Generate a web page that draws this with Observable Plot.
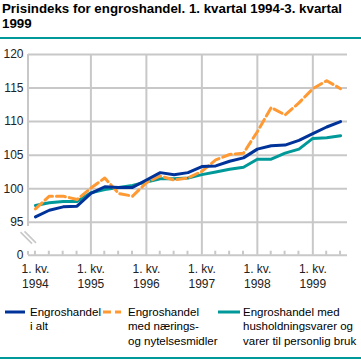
<!DOCTYPE html>
<html>
<head>
<meta charset="utf-8">
<script src="https://cdn.jsdelivr.net/npm/d3@7"></script>
<script src="https://cdn.jsdelivr.net/npm/@observablehq/plot@0.6"></script>
<style>
  body { margin: 0; background: #fff; }
  #wrap { position: relative; width: 361px; height: 361px; overflow: hidden; background: #fff; font-family: "Liberation Sans", Arial, sans-serif; }
  #title { position: absolute; left: 2px; top: 1px; width: 356px; font-weight: bold; font-size: 13.3px; line-height: 15px; color: #000; }
  .rule { position: absolute; left: 0; width: 361px; height: 2px; background: #009999; }
  #chart { position: absolute; left: 0; top: 39px; }
  .leg { position: absolute; top: 305px; font-size: 11.5px; line-height: 14.3px; color: #000; white-space: nowrap; }
</style>
</head>
<body>
<div id="wrap">
  <div id="title">Prisindeks for engroshandel. 1. kvartal 1994-3. kvartal 1999</div>
  <div class="rule" style="top:37px"></div>
  <div id="chart"></div>
  <div id="legend"></div>
  <div class="rule" style="top:357px"></div>
</div>
<script>
// ---- data ----
const years = ["1994", "1995", "1996", "1997", "1998", "1999"];
const quarterLabel = "1. kv.";
const yTicks = [0, 95, 100, 105, 110, 115, 120];
const seriesNames = [
  "Engroshandel\ni alt",
  "Engroshandel\nmed nærings-\nog nytelsesmidler",
  "Engroshandel med\nhusholdningsvarer og\nvarer til personlig bruk"
];
const seriesColors = ["#003399", "#ff9933", "#009999"];
// 1. kvartal 1994 .. 3. kvartal 1999 (23 quarters)
const total = [95.8, 96.8, 97.3, 97.4, 99.3, 100.3, 100.2, 100.2, 101.3, 102.4, 102.1, 102.4,
               103.3, 103.4, 104.1, 104.6, 105.9, 106.4, 106.5, 107.2, 108.2, 109.2, 110.0];
const food = [97.0, 98.9, 98.9, 98.4, 100.1, 101.6, 99.3, 98.9, 100.9, 101.9, 101.3, 101.6,
              102.6, 104.3, 105.1, 105.3, 108.5, 112.1, 111.0, 112.8, 114.9, 116.1, 114.9];
const household = [97.5, 97.9, 98.1, 98.1, 99.4, 99.9, 100.2, 100.5, 101.0, 101.5, 101.5, 101.6,
                   102.1, 102.5, 102.9, 103.2, 104.4, 104.4, 105.3, 105.9, 107.5, 107.6, 107.9];

// ---- build ----
const idx = total.map((_, i) => i);
const toRows = (arr) => arr.map((v, i) => ({ q: i, v }));
const grid = "#c8c8c8";
const gw = 2;
const W = 361, H = 255;
const mL = 28, mR = 14, mT = 15, mB = 39.3;
// broken axis: the zero line sits a fixed gap (in value units) below 95
const breakGap = 4.9;
const yZero = 95 - breakGap;
const yPos = d => (d === 0 ? yZero : d);

const plot = Plot.plot({
  width: W,
  height: H,
  marginLeft: mL,
  marginRight: mR,
  marginTop: mT,
  marginBottom: mB,
  style: { fontFamily: "'Liberation Sans', Arial, sans-serif", fontSize: "11.5px", background: "transparent", overflow: "visible" },
  x: { domain: [-0.5, idx.length - 0.5], axis: null },
  y: { domain: [yZero, 120], axis: null },
  marks: [
    Plot.ruleY(yTicks.filter(d => d > 0), { y: d => d, stroke: grid, strokeWidth: gw }),
    Plot.ruleX(years.slice(1), { x: (d, i) => (i + 1) * 4, stroke: grid, strokeWidth: gw }),
    Plot.ruleY([0], { y: yPos, stroke: grid, strokeWidth: gw }),
    Plot.text(yTicks, { y: yPos, text: d => String(d), frameAnchor: "left", textAnchor: "end", dx: -5, fill: "#222", fontSize: 12 }),
    Plot.text(years, { x: (d, i) => i * 4, text: d => quarterLabel + "\n" + d, frameAnchor: "bottom", lineAnchor: "top", dy: 7, lineHeight: 1.25, textAnchor: "middle", fill: "#222", fontSize: 12 }),
    Plot.line(toRows(household), { x: "q", y: "v", stroke: seriesColors[2], strokeWidth: 3 }),
    Plot.line(toRows(food), { x: "q", y: "v", stroke: seriesColors[1], strokeWidth: 3, strokeDasharray: "9,4" }),
    Plot.line(toRows(total), { x: "q", y: "v", stroke: seriesColors[0], strokeWidth: 3 })
  ]
});

// axis line with break marks, minor ticks (placed with the plot's own scales)
const sx = plot.scale("x"), sy = plot.scale("y");
const svg = d3.select(plot);
const g = svg.append("g").attr("stroke", grid).attr("stroke-width", gw).attr("fill", "none");
const ax = sx.apply(-0.5);
const y0 = sy.apply(yZero), y95 = sy.apply(95);
g.append("line").attr("x1", ax).attr("x2", ax).attr("y1", sy.apply(120)).attr("y2", y95 + 4.3);
g.append("line").attr("x1", ax).attr("x2", ax).attr("y1", y0 - 3.7).attr("y2", y0);
const mid = (y0 + y95) / 2 - 1;
[-2, 2].forEach(o => {
  g.append("line").attr("stroke-width", 1.6).attr("x1", ax - 5.5 + o).attr("y1", mid - 5.5 - o * 0.2).attr("x2", ax + 6 + o).attr("y2", mid + 6 - o * 0.2);
});
idx.forEach(i => {
  if (i % 4 !== 0 || i === 0) {
    g.append("line").attr("x1", sx.apply(i)).attr("x2", sx.apply(i)).attr("y1", y0 - 4).attr("y2", y0);
  }
});
document.getElementById("chart").append(plot);

// legend
const legend = document.getElementById("legend");
const legPos = [{ sw: 5, sww: 20, tx: 30 }, { sw: 103, sww: 18, tx: 128 }, { sw: 218, sww: 22, tx: 243 }];
seriesNames.forEach((name, k) => {
  const p = legPos[k];
  const s = document.createElementNS("http://www.w3.org/2000/svg", "svg");
  s.setAttribute("width", p.sww);
  s.setAttribute("height", 4);
  s.style.position = "absolute";
  s.style.left = p.sw + "px";
  s.style.top = "309.5px";
  const l = document.createElementNS("http://www.w3.org/2000/svg", "line");
  l.setAttribute("x1", 0); l.setAttribute("x2", p.sww);
  l.setAttribute("y1", 2); l.setAttribute("y2", 2);
  l.setAttribute("stroke", seriesColors[k]);
  l.setAttribute("stroke-width", 3);
  if (k === 1) l.setAttribute("stroke-dasharray", "8,4");
  s.appendChild(l);
  legend.appendChild(s);
  const t = document.createElement("div");
  t.className = "leg";
  t.style.left = p.tx + "px";
  t.innerHTML = name.split("\n").join("<br>");
  legend.appendChild(t);
});
</script>
</body>
</html>
